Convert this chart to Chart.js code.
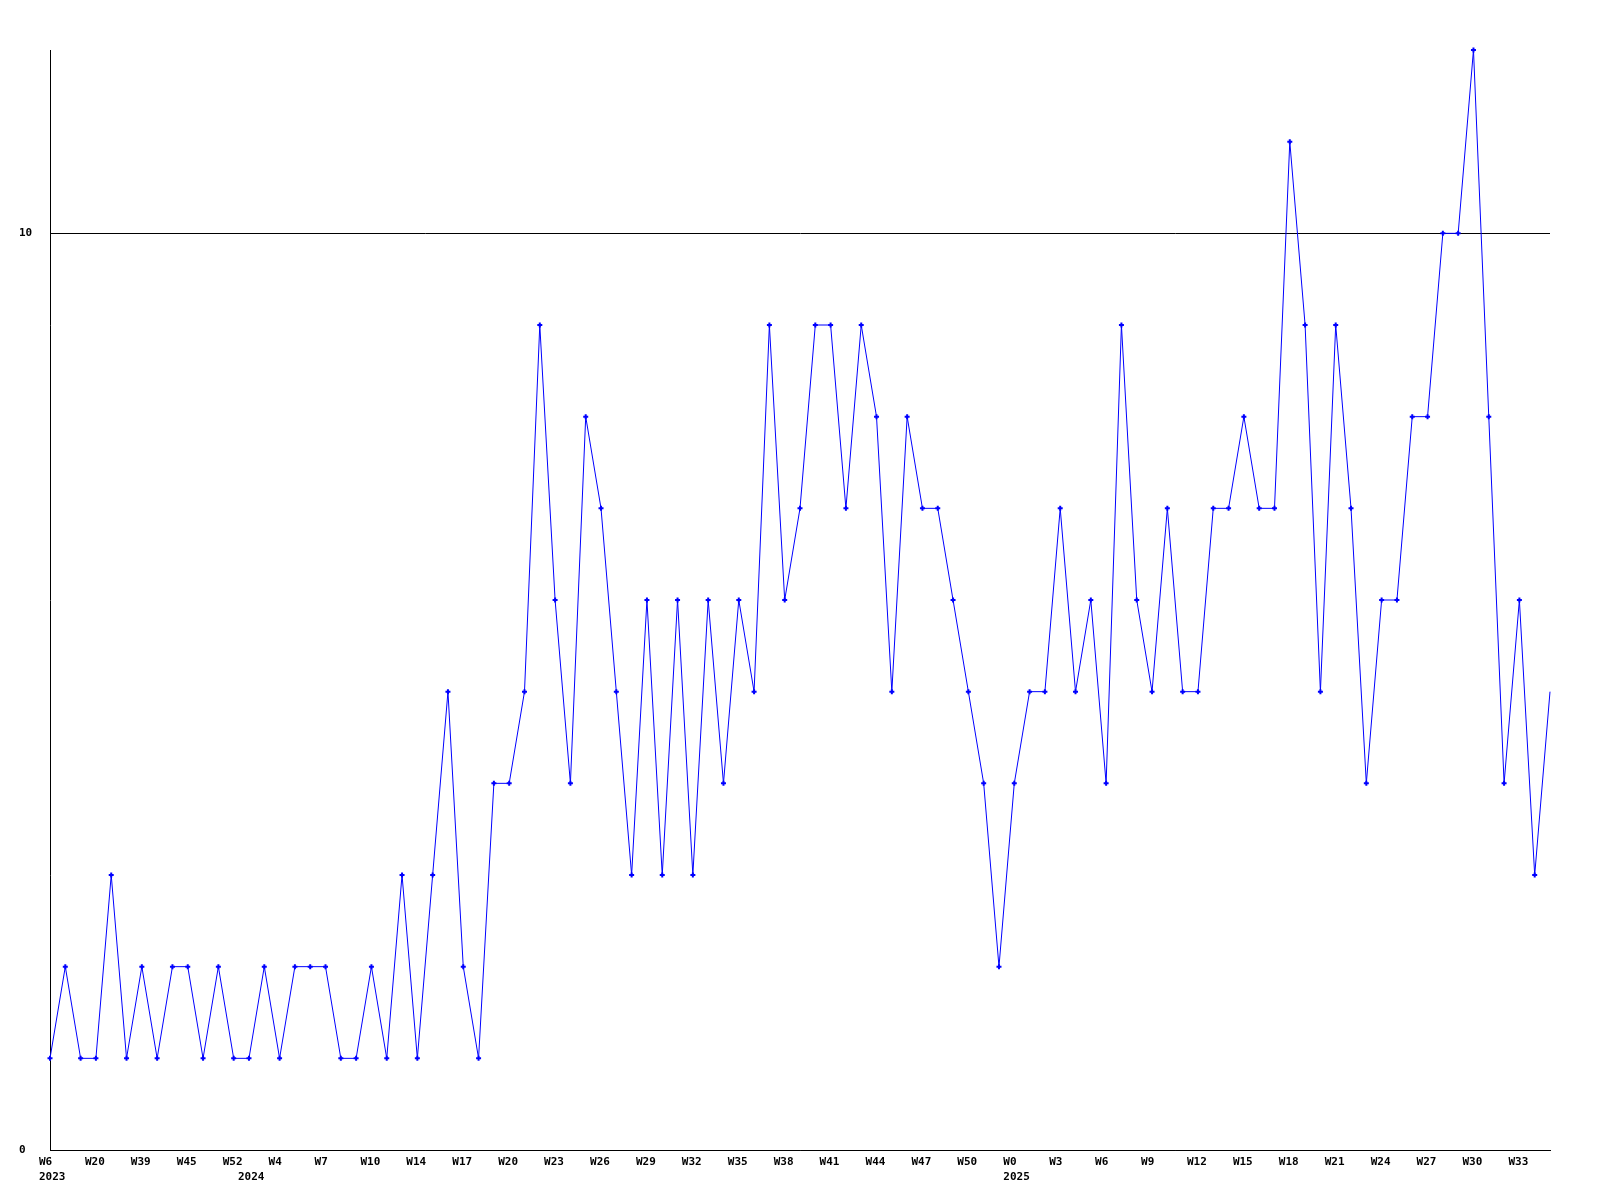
<!DOCTYPE html>
<html>
<head>
<meta charset="utf-8">
<script src="https://cdn.jsdelivr.net/npm/chart.js@4/dist/chart.umd.min.js"></script>
<style>
  body { margin: 0; background: #fff; }
  canvas { display: block; }
</style>
</head>
<body>
<canvas id="weeklyChart" width="1600" height="1200"></canvas>
<script>
// weekly counts, one per point
const counts = [
  1, 2, 1, 1, 3, 1, 2, 1, 2, 2,
  1, 2, 1, 1, 2, 1, 2, 2, 2, 1,
  1, 2, 1, 3, 1, 3, 5, 2, 1, 4,
  4, 5, 9, 6, 4, 8, 7, 5, 3, 6,
  3, 6, 3, 6, 4, 6, 5, 9, 6, 7,
  9, 9, 7, 9, 8, 5, 8, 7, 7, 6,
  5, 4, 2, 4, 5, 5, 7, 5, 6, 4,
  9, 6, 5, 7, 5, 5, 7, 7, 8, 7,
  7, 11, 9, 5, 9, 7, 4, 6, 6, 8,
  8, 10, 10, 12, 8, 4, 6, 3, 5
];

// week label on every third point
const weekTicks = [
  "W6", "W20", "W39", "W45", "W52", "W4", "W7", "W10", "W14", "W17", "W20",
  "W23", "W26", "W29", "W32", "W35", "W38", "W41", "W44", "W47", "W50",
  "W0", "W3", "W6", "W9", "W12", "W15", "W18", "W21", "W24", "W27", "W30", "W33"
];
const weekEvery = 3;

// year labels and the point they start at
const yearTicks = ["2023", "2024", "2025"];
const yearStart = [0, 13, 63];

const yTicks = [0, 10];

const labels = counts.map((_, i) => i);

function tickLines(i) {
  const week = i % weekEvery === 0 ? weekTicks[i / weekEvery] : "";
  const y = yearStart.indexOf(i);
  if (y >= 0) return [week, yearTicks[y]];
  return week;
}

const font = { family: "'DejaVu Sans Mono', monospace", size: 11, weight: "bold", lineHeight: "15px" };

new Chart(document.getElementById("weeklyChart"), {
  type: "line",
  data: {
    labels: labels,
    datasets: [{
      data: counts,
      borderColor: "#0000ff",
      borderWidth: 1,
      tension: 0,
      fill: false,
      clip: false,
      pointStyle: "cross",
      pointRadius: (ctx) => ctx.dataIndex === counts.length - 1 ? 0 : 2.5,
      pointBorderWidth: 2,
      pointBorderColor: "#0000ff",
      pointBackgroundColor: "#0000ff"
    }]
  },
  options: {
    responsive: false,
    animation: false,
    devicePixelRatio: 1,
    layout: { padding: { left: 19, right: 50, top: 50, bottom: 0 } },
    plugins: {
      legend: { display: false },
      tooltip: { enabled: false }
    },
    scales: {
      x: {
        type: "category",
        offset: false,
        grid: { display: false, drawTicks: false },
        border: { display: true, color: "#000", width: 1 },
        afterFit: (scale) => { scale.height = 50; },
        ticks: {
          autoSkip: false,
          maxRotation: 0,
          minRotation: 0,
          align: "start",
          labelOffset: -11,
          padding: 5,
          color: "#000",
          font: font,
          callback: (value, index) => tickLines(index)
        }
      },
      y: {
        min: 0,
        max: 12,
        afterBuildTicks: (scale) => { scale.ticks = yTicks.map(v => ({ value: v })); },
        afterFit: (scale) => { scale.width = 31; },
        grid: { color: "#000", lineWidth: 1, drawTicks: false },
        border: { display: true, color: "#000", width: 1 },
        ticks: {
          crossAlign: "far",
          padding: 0,
          color: "#000",
          font: font
        }
      }
    }
  }
});
</script>
</body>
</html>
